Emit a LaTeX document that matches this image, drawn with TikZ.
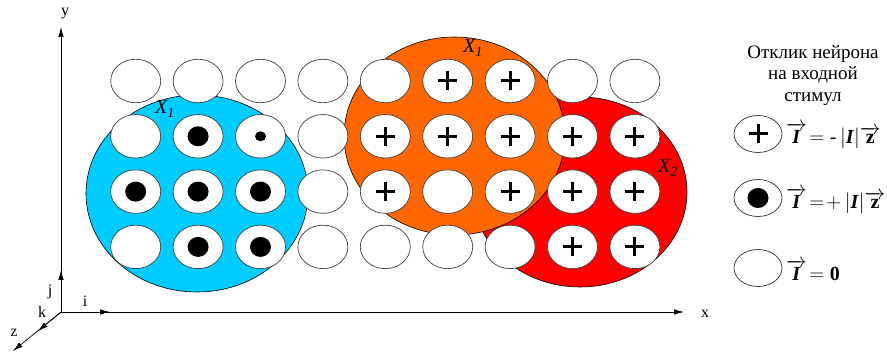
\documentclass[tikz,border=0pt]{standalone}
\usepackage{amsmath}
\usepackage{fontspec}
\setmainfont{Liberation Serif}
\usetikzlibrary{arrows.meta,shapes.geometric}
\definecolor{blobblue}{RGB}{0,204,255}
\definecolor{bloborange}{RGB}{255,102,0}
\definecolor{blobred}{RGB}{255,0,0}
\begin{document}
\begin{tikzpicture}[x=1pt,y=-1pt,
  nrn/.style={ellipse, draw=black!75, fill=white, line width=0.7pt,
    minimum width=50pt, minimum height=43.5pt, inner sep=0pt},
  nrne/.style={nrn},
  nrnp/.style={nrn, path picture={
    \draw[black, line width=3pt]
      ([xshift=-9.5pt]path picture bounding box.center) -- ([xshift=9.5pt]path picture bounding box.center)
      ([yshift=-9.5pt]path picture bounding box.center) -- ([yshift=9.5pt]path picture bounding box.center);}},
  nrnd/.style={nrn, path picture={
    \fill[black] (path picture bounding box.center) ellipse [x radius=10.5pt, y radius=10pt];}},
  nrns/.style={nrn, path picture={
    \fill[black] (path picture bounding box.center) ellipse [x radius=5.5pt, y radius=5pt];}},
  legcell/.style={ellipse, draw=black!80, fill=white, line width=0.7pt,
    minimum width=48pt, minimum height=37pt, inner sep=0pt},
  axis/.style={line width=0.7pt, -{Latex[length=10pt,width=5.5pt]}},
  lbl/.style={font=\fontsize{16}{16}\selectfont, inner sep=0pt},
  blobl/.style={font=\fontsize{20}{20}\selectfont\itshape, inner sep=0pt},
  formula/.style={font=\fontsize{20}{20}\selectfont, anchor=west, inner sep=0pt}
]
\useasboundingbox (0,0) rectangle (887,355);

% coloured regions
\fill[blobblue, draw=black, line width=0.6pt] (197,193.5) ellipse [x radius=111, y radius=98.5];
\fill[blobred, draw=black, line width=0.6pt] (580,192) ellipse [x radius=107, y radius=95];
\fill[bloborange, draw=black, line width=0.6pt] (454.5,136) ellipse [x radius=110.5, y radius=99];

\node[blobl] (x1a) at (165,109) {X\textsubscript{1}};
\node[blobl] (x1b) at (473,48) {X\textsubscript{1}};
\node[blobl] (x2) at (668,168) {X\textsubscript{2}};

% grid of neurons
\foreach \r/\lst in {1/{e,e,e,e,e,p,p,e,e},2/{e,d,s,e,p,p,p,p,p},3/{d,d,d,e,p,e,p,p,p},4/{e,d,d,e,e,e,e,p,p}}{
  \foreach \t [count=\c] in \lst {
    \node[nrn\t] (n\r-\c) at ({135.7+62.4*(\c-1)},{81+55.3*(\r-1)}) {};
  }
}

% axes
\coordinate (O) at (61,312);
\coordinate (xtip) at (684,312);
\coordinate (itip) at (110,312);
\coordinate (ytip) at (61,27);
\coordinate (jtip) at (61,270);
\coordinate (ztip) at (13,351);
\coordinate (ktip) at (38,331);
\draw[axis] (O) -- (xtip);
\draw[axis] (O) -- (itip);
\draw[axis] (O) -- (ytip);
\draw[axis] (O) -- (jtip);
\draw[axis] (O) -- (ztip);
\draw[axis] (O) -- (ktip);
\node[lbl] (xl) at (705,314) {x};
\node[lbl] (yl) at (65,14) {y};
\node[lbl] (il) at (85,301) {i};
\node[lbl] (jl) at (50,292) {j};
\node[lbl] (kl) at (42,312) {k};
\node[lbl] (zl) at (14,333) {z};

% legend
\node[font=\fontsize{19}{21.5}\selectfont, align=center, inner sep=0pt, anchor=north] (title) at (813,45)
  {Отклик нейрона\\на входной\\стимул};
\node[legcell, path picture={
    \draw[black, line width=3pt]
      ([xshift=-9.5pt]path picture bounding box.center) -- ([xshift=9.5pt]path picture bounding box.center)
      ([yshift=-9.5pt]path picture bounding box.center) -- ([yshift=9.5pt]path picture bounding box.center);}]
  (lp) at (758,134) {};
\node[legcell, path picture={\fill[black] (path picture bounding box.center) ellipse [x radius=10.5pt, y radius=10pt];}]
  (ld) at (758,198) {};
\node[legcell] (le) at (758,268) {};
\node[formula] (fp) at (786,136) {$\overrightarrow{\textbf{\textit{I}}}\!=\text{-}\,|\textbf{\textit{I}}|\overrightarrow{\mathbf{z}}$};
\node[formula] (fd) at (786,201) {$\overrightarrow{\textbf{\textit{I}}}\!=\!+\,|\textbf{\textit{I}}|\overrightarrow{\mathbf{z}}$};
\node[formula] (fe) at (786,270) {$\overrightarrow{\textbf{\textit{I}}}\!=\mathbf{0}$};
\end{tikzpicture}
\end{document}
